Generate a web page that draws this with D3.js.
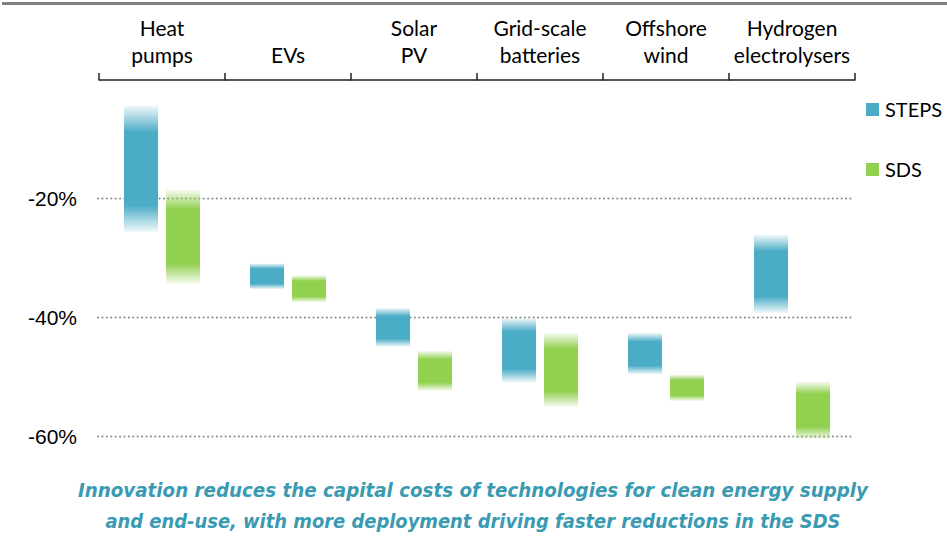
<!DOCTYPE html>
<html>
  <head>
    <meta charset="utf-8">
    <title>Capital cost reductions</title>
<style>
  body { margin: 0; background-color: #fff; }
  svg { display: block; font-family: Lato, "Open Sans", sans-serif; }
  .grid line { stroke: #8a8a8a; stroke-width: 2; stroke-dasharray: 0.1 4.3; stroke-linecap: round; }
  .grid text { font-size: 21px; fill: #000; }
  .cat text { font-size: 21px; fill: #000; }
  .legend text { font-size: 20px; fill: #000; }
  .caption { font-family: "DejaVu Sans", sans-serif; font-size: 19px; font-weight: bold; font-style: italic; fill: #3a9ab2; }
</style>
  </head>
  <body>
    <div id="viz"></div>

  <script src="https://cdn.jsdelivr.net/npm/d3@7"></script>
  <script>

    // categories (two header lines each)
    var categories = ["Heat pumps", "EVs", "Solar PV", "Grid-scale batteries", "Offshore wind", "Hydrogen electrolysers"];
    var catLines = [["Heat", "pumps"], ["EVs"], ["Solar", "PV"], ["Grid-scale", "batteries"], ["Offshore", "wind"], ["Hydrogen", "electrolysers"]];

    var scenarios = ["STEPS", "SDS"];

    // cost change ranges (%), upper and lower end of each bar
    var stepsHigh = [-4.5, -31, -38.5, -40.2, -42.7, -26.2];
    var stepsLow  = [-25.7, -35.3, -45, -51, -49.6, -39.3];
    var sdsHigh   = [-18.6, -33, -45.7, -42.7, -49.7, -50.9];
    var sdsLow    = [-34.4, -37.5, -52.4, -55.1, -54.1, -60.5];

    var yTicks = [-20, -40, -60];
    var caption = ["Innovation reduces the capital costs of technologies for clean energy supply",
                   "and end-use, with more deployment driving faster reductions in the SDS"];

    var colors = { STEPS: "#4bacc6", SDS: "#92d050" };

    var W = 947, H = 550;

    var x = d3.scaleBand()
        .domain(categories)
        .range([99, 855]);

    var xs = d3.scaleBand()
        .domain(scenarios)
        .range([0, x.bandwidth()])
        .paddingOuter(0.595)
        .paddingInner(0.19);

    var y = d3.scaleLinear()
        .domain([0, -60])
        .range([79, 436]);

    var svg = d3.select("#viz").append("svg")
        .attr("width", W)
        .attr("height", H);

    // gradients: fade at both ends of each bar
    var defs = svg.append("defs");
    scenarios.forEach(function(s) {
      var g = defs.append("linearGradient")
          .attr("id", "grad-" + s)
          .attr("x1", 0).attr("y1", 0).attr("x2", 0).attr("y2", 1);
      [[0, 0.08], [0.21, 1], [0.79, 1], [1, 0.08]].forEach(function(st) {
        g.append("stop")
          .attr("offset", st[0])
          .attr("stop-color", colors[s])
          .attr("stop-opacity", st[1]);
      });
    });

    // top rule
    svg.append("line")
        .attr("x1", 2).attr("x2", W)
        .attr("y1", 3.5).attr("y2", 3.5)
        .attr("stroke", "#7f7f7f")
        .attr("stroke-width", 3);

    // gridlines + y labels
    var grid = svg.append("g")
        .attr("class", "grid")
        .attr("transform", "translate(98,0)")
        .call(d3.axisLeft(y).tickValues(yTicks).tickSize(-754).tickFormat(function(d) { return d + "%"; }));
    grid.select(".domain").remove();
    grid.selectAll("text").attr("x", -21).attr("dy", "0.35em");

    // category axis at the top
    var cat = svg.append("g").attr("class", "cat");
    var edges = categories.map(function(c) { return x(c); }).concat([x.range()[1]]);

    cat.append("line")
        .attr("x1", x.range()[0]).attr("x2", x.range()[1])
        .attr("y1", y(0) + 1).attr("y2", y(0) + 1)
        .attr("stroke", "#222")
        .attr("stroke-width", 1.5);

    cat.selectAll(".tick")
        .data(edges)
      .enter().append("line")
        .attr("x1", function(d) { return d; })
        .attr("x2", function(d) { return d; })
        .attr("y1", y(0) + 1.5)
        .attr("y2", y(0) - 6)
        .attr("stroke", "#222")
        .attr("stroke-width", 1.5);

    cat.selectAll(".label")
        .data(categories)
      .enter().append("text")
        .attr("text-anchor", "middle")
        .attr("x", function(d) { return x(d) + x.bandwidth() / 2; })
        .each(function(d, i) {
          var lines = catLines[i];
          var t = d3.select(this);
          lines.forEach(function(l, j) {
            t.append("tspan")
              .attr("x", x(d) + x.bandwidth() / 2)
              .attr("y", lines.length === 2 ? 36 + j * 27 : 63)
              .text(l);
          });
        });

    // bars
    var barData = [];
    categories.forEach(function(c, i) {
      barData.push({ cat: c, s: "STEPS", hi: stepsHigh[i], lo: stepsLow[i] });
      barData.push({ cat: c, s: "SDS", hi: sdsHigh[i], lo: sdsLow[i] });
    });

    svg.append("g").selectAll("rect")
        .data(barData)
      .enter().append("rect")
        .attr("x", function(d) { return x(d.cat) + xs(d.s); })
        .attr("width", xs.bandwidth())
        .attr("y", function(d) { return y(d.hi); })
        .attr("height", function(d) { return y(d.lo) - y(d.hi); })
        .attr("fill", function(d) { return "url(#grad-" + d.s + ")"; });

    // legend
    var legend = svg.selectAll(".legend")
        .data(scenarios)
      .enter().append("g")
        .attr("class", "legend")
        .attr("transform", function(d, i) { return "translate(866," + (103 + i * 60) + ")"; });

    legend.append("rect")
        .attr("width", 13)
        .attr("height", 13)
        .attr("fill", function(d) { return colors[d]; });

    legend.append("text")
        .attr("x", 19)
        .attr("y", 14)
        .text(function(d) { return d; });

    // caption
    svg.selectAll(".caption")
        .data(caption)
      .enter().append("text")
        .attr("class", "caption")
        .attr("text-anchor", "middle")
        .attr("x", 473)
        .attr("y", function(d, i) { return 497 + i * 31; })
        .attr("textLength", function(d, i) { return i === 0 ? 790 : 735; })
        .attr("lengthAdjust", "spacingAndGlyphs")
        .text(function(d) { return d; });

  </script>
  </body>
</html>
